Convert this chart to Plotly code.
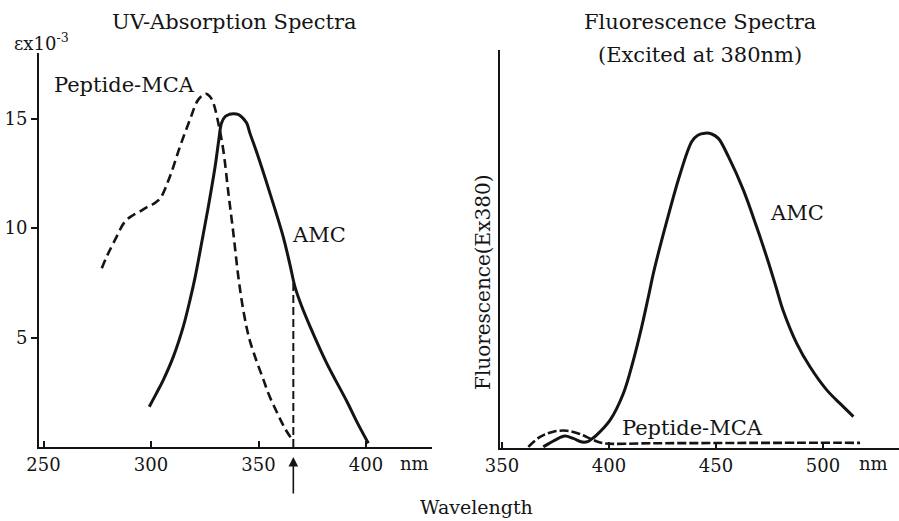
import numpy as np
import plotly.graph_objects as go

# ---- UV absorption (epsilon x 10^-3 vs wavelength, nm) ----
uv_amc_nm = [299.2, 302.5, 305.7, 310.4, 315.0, 318.1, 320.5, 323.6, 326.7, 329.8,
             331.5, 332.8, 334.5, 336.5, 338.3, 340.5, 342.5, 344.5, 346.0, 349.2,
             355.3, 361.5, 364.7, 367.0, 370.0, 374.0, 381.7, 391.0, 396.0, 401.1]
uv_amc_eps = [1.84, 2.45, 3.06, 4.13, 5.50, 6.7, 7.75, 9.35, 11.0, 12.8,
              14.0, 14.8, 15.1, 15.2, 15.23, 15.2, 15.05, 14.8, 14.34, 13.45,
              11.6, 9.6, 8.3, 7.3, 6.45, 5.5, 3.83, 2.1, 1.1, 0.17]

uv_pep_nm = [277.1, 279.4, 283.3, 287.9, 291.8, 294.9, 298.0, 301.0, 304.2, 308.8,
             313.5, 318.1, 322.0, 325.5, 327.5, 329.0, 331.3, 333.6, 336.0, 338.3,
             340.6, 342.5, 344.5, 346.0, 349.0, 352.2, 355.0, 358.5, 362.0, 366.2]
uv_pep_eps = [8.17, 8.70, 9.47, 10.3, 10.6, 10.76, 10.95, 11.1, 11.35, 12.36,
              13.73, 14.95, 15.87, 16.14, 16.0, 15.72, 14.8, 13.58, 11.6, 9.77,
              7.79, 6.5, 5.45, 4.85, 3.95, 3.1, 2.35, 1.6, 0.9, 0.25]

uv_ticks = [250, 300, 350, 400]
eps_ticks = [5, 10, 15]
excitation_nm = 366.2

# ---- Fluorescence (excited at 380 nm, arbitrary units) ----
fl_amc_nm = [369.3, 374.8, 379.4, 383.3, 387.5, 390.0, 392.0, 394.3, 400.5, 406.7,
             411.4, 415.3, 418.4, 421.0, 427.0, 433.2, 438.7, 441.5, 444.9, 448.0,
             451.1, 455.8, 462.8, 469.0, 474.4, 478.0, 481.4, 487.7, 493.9, 501.7,
             507.9, 514.2]
fl_amc_int = [0.3, 2.0, 3.0, 2.4, 1.5, 1.6, 2.3, 3.3, 7.0, 13.7,
              22.1, 30.5, 38.0, 44.5, 57.0, 68.8, 77.0, 78.6, 79.1, 78.9,
              77.8, 73.2, 64.8, 55.5, 46.8, 40.5, 34.5, 26.3, 20.4, 14.6,
              11.2, 7.9]

fl_pep_nm = [362.3, 367.8, 374.0, 380.2, 386.4, 392.7, 397.3, 420.0, 450.0, 480.0, 517.3]
fl_pep_int = [0.3, 2.8, 4.1, 4.35, 3.5, 2.0, 1.2, 1.2, 1.25, 1.3, 1.3]

fl_ticks = [350, 400, 450, 500]

W, H = 899, 521
INK = "#141414"
FONT = "DejaVu Serif"


def px(x):
    return x / W


def py(y):
    return 1 - y / H


fig = go.Figure()

solid = dict(color=INK, width=3, shape="spline", smoothing=1.0)

fig.add_trace(go.Scatter(x=uv_amc_nm, y=uv_amc_eps, mode="lines", line=solid,
                         xaxis="x", yaxis="y", name="AMC"))
fig.add_trace(go.Scatter(x=uv_pep_nm, y=uv_pep_eps, mode="lines",
                         line=dict(color=INK, width=2.6, dash="9px,5px",
                                   shape="spline", smoothing=1.0),
                         xaxis="x", yaxis="y", name="Peptide-MCA"))
# excitation marker from the baseline up to the AMC absorption curve
marker_top = float(np.interp(excitation_nm, uv_amc_nm, uv_amc_eps))
fig.add_trace(go.Scatter(x=[excitation_nm, excitation_nm], y=[0, marker_top], mode="lines",
                         line=dict(color=INK, width=2, dash="8px,4px"),
                         xaxis="x", yaxis="y", name="excitation"))

fig.add_trace(go.Scatter(x=fl_amc_nm, y=fl_amc_int, mode="lines", line=solid,
                         xaxis="x2", yaxis="y2", name="AMC"))
fig.add_trace(go.Scatter(x=fl_pep_nm, y=fl_pep_int, mode="lines",
                         line=dict(color=INK, width=2.6, dash="9px,3px",
                                   shape="spline", smoothing=1.0),
                         xaxis="x2", yaxis="y2", name="Peptide-MCA"))

axis_common = dict(showgrid=False, zeroline=False, showline=True, linecolor=INK,
                   linewidth=2, tickcolor=INK, tickwidth=1.5, automargin=False,
                   tickfont=dict(family=FONT, size=18, color=INK))

fig.update_layout(
    width=W, height=H,
    margin=dict(l=0, r=0, t=0, b=0),
    paper_bgcolor="white", plot_bgcolor="white",
    showlegend=False,
    font=dict(family=FONT, color=INK),
    xaxis=dict(domain=[px(39), px(432)], range=[247.9, 430.7], tickvals=uv_ticks,
               ticks="inside", ticklen=6, anchor="y", **axis_common),
    yaxis=dict(domain=[py(447), py(53)], range=[0, 18], tickvals=eps_ticks,
               ticks="outside", ticklen=6, anchor="x", **axis_common),
    xaxis2=dict(domain=[px(500), 1.0], range=[349.07, 535.5], tickvals=fl_ticks,
                ticks="inside", ticklen=6, anchor="y2", **axis_common),
    yaxis2=dict(domain=[py(448), py(50)], range=[0, 100], showticklabels=False,
                ticks="", anchor="x2", **axis_common),
)

# excitation arrow below the UV axis
fig.add_annotation(x=excitation_nm, xref="x", y=py(457), yref="paper", text="",
                   showarrow=True, ax=0, ay=38, arrowhead=2, arrowsize=1.2,
                   arrowwidth=1.6, arrowcolor=INK, standoff=0)

texts = [
    ("UV-Absorption Spectra", 235, 22, 21, "center"),
    ("Fluorescence Spectra", 700, 22, 21, "center"),
    ("(Excited at 380nm)", 700, 55, 21, "center"),
    ("εx10<sup>-3</sup>", 41, 42, 18, "center"),
    ("Peptide-MCA", 124, 85, 21, "center"),
    ("AMC", 319, 235, 21, "center"),
    ("AMC", 797, 213, 21, "center"),
    ("Peptide-MCA", 692, 428, 21, "center"),
    ("nm", 414, 463, 18, "center"),
    ("nm", 873, 463, 18, "center"),
    ("Wavelength", 477, 507, 19, "center"),
]
for t, x, y, s, anc in texts:
    fig.add_annotation(text=t, x=px(x), y=py(y), xref="paper", yref="paper",
                       xanchor=anc, yanchor="middle", showarrow=False,
                       font=dict(family=FONT, size=s, color=INK))

fig.add_annotation(text="Fluorescence(Ex380)", x=px(483), y=py(283), xref="paper",
                   yref="paper", textangle=-90, xanchor="center", yanchor="middle",
                   showarrow=False, font=dict(family=FONT, size=20, color=INK))

fig.write_html("out.html")
